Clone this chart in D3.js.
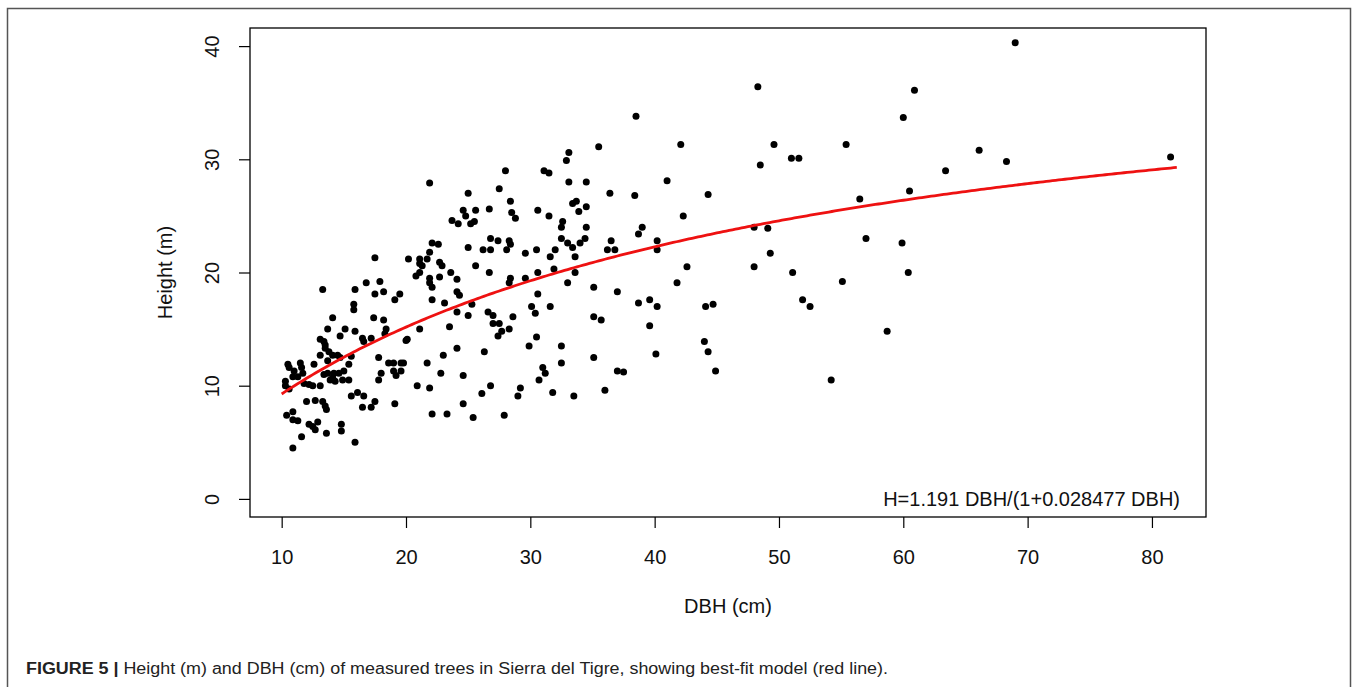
<!DOCTYPE html>
<meta charset="utf-8">
<script src="https://d3js.org/d3.v7.min.js"></script>
<style>
  body { margin: 0; background: #fff; }
  text { font-family: "Liberation Sans", Arial, sans-serif; }
</style>
<svg width="1358" height="687"></svg>

<script>
    const dbh = [13.3, 16.8, 17.9, 15.9, 17.5, 18.2, 19.5, 19.1, 20.8, 21.9, 21.9, 22.1, 22.7, 23.6, 24.1, 24.1, 24.3, 22.1, 23.1, 15.8,
        15.8, 14.1, 17.4, 18.2, 24.1, 13.7, 15.1, 15.9, 14.7, 18.4, 18.3, 21.1, 23.5, 13.1, 13.4, 13.5, 13.5, 16.5, 16.6, 17.2,
        20.1, 20.0, 13.1, 13.8, 14.1, 14.5, 14.7, 15.6, 23.0, 24.1, 10.5, 10.6, 11.5, 11.6, 11.7, 11.0, 10.9, 12.6, 13.7, 17.8,
        18.6, 19.0, 19.6, 19.8, 21.7, 13.4, 13.7, 14.2, 14.6, 15.0, 15.4, 14.1, 14.3, 18.0, 17.8, 19.0, 19.2, 19.6, 22.8, 24.6,
        10.3, 10.3, 10.6, 11.3, 11.8, 12.2, 12.5, 13.1, 13.9, 14.9, 15.4, 20.9, 21.9, 15.6, 16.1, 16.6, 12.0, 12.7, 13.3, 13.5,
        13.6, 17.5, 19.1, 16.5, 17.2, 24.6, 10.4, 10.9, 10.9, 11.3, 12.2, 12.5, 12.7, 12.9, 13.6, 14.8, 14.8, 22.1, 23.3, 11.6,
        10.9, 15.9, 21.9, 25.0, 24.6, 24.8, 23.7, 24.2, 25.2, 22.1, 22.6, 21.9, 25.0, 17.5, 20.2, 21.1, 21.7, 21.3, 21.1, 22.7,
        22.9, 21.1, 32.9, 28.0, 31.1, 31.5, 33.1, 34.5, 27.5, 36.4, 38.4, 28.4, 33.4, 33.7, 34.5, 33.9, 25.6, 26.7, 28.5, 28.8,
        30.6, 31.5, 32.6, 32.5, 34.5, 39.0, 38.7, 25.5, 26.8, 27.4, 28.3, 28.4, 32.5, 34.4, 34.0, 33.0, 33.4, 26.2, 26.8, 28.1,
        29.6, 30.5, 32.0, 31.6, 33.6, 36.5, 36.2, 36.8, 40.2, 40.2, 25.6, 26.7, 28.4, 28.3, 29.6, 30.6, 31.9, 33.6, 33.0, 35.1,
        37.0, 30.6, 30.1, 31.6, 25.3, 38.7, 39.6, 40.2, 25.0, 30.4, 26.6, 27.0, 27.0, 27.5, 28.6, 28.3, 27.7, 27.4, 30.5, 29.9,
        32.5, 35.1, 35.7, 39.6, 40.1, 26.3, 32.5, 35.1, 31.0, 31.2, 30.7, 37.0, 37.5, 26.8, 26.1, 29.2, 29.0, 31.8, 33.5, 36.0,
        25.4, 27.9, 42.1, 49.6, 55.4, 51.0, 51.6, 48.5, 41.0, 44.3, 56.5, 42.3, 48.0, 49.1, 57.0, 49.3, 42.6, 48.0, 51.1, 55.1,
        41.8, 51.9, 44.1, 44.7, 52.5, 44.0, 44.3, 44.9, 54.2, 69.0, 60.9, 60.0, 66.1, 63.4, 68.3, 60.5, 81.5, 59.9, 60.4, 58.7,
        48.3, 38.5, 35.5, 33.1];
    const height = [18.5, 19.1, 19.2, 18.5, 18.1, 18.3, 18.1, 17.6, 19.7, 19.5, 19.1, 18.7, 19.6, 20.0, 19.4, 18.3, 18.0, 17.6, 17.3, 17.2,
        16.7, 16.0, 16.0, 15.8, 16.5, 15.0, 15.0, 14.8, 14.4, 15.0, 14.6, 15.0, 15.2, 14.1, 13.9, 13.6, 13.3, 14.2, 13.9, 14.2,
        14.1, 14.0, 12.7, 13.0, 12.7, 12.7, 12.5, 12.6, 12.7, 13.3, 11.9, 11.6, 12.0, 11.6, 11.1, 11.3, 10.8, 11.9, 12.2, 12.5,
        12.0, 12.0, 12.0, 12.0, 12.0, 11.0, 11.1, 11.1, 11.1, 11.3, 11.9, 10.7, 10.4, 11.1, 10.5, 11.3, 10.9, 11.3, 11.1, 10.9,
        10.4, 10.0, 9.7, 10.8, 10.2, 10.1, 10.0, 10.0, 10.5, 10.5, 10.5, 10.0, 9.8, 9.1, 9.4, 9.1, 8.6, 8.7, 8.6, 8.2,
        7.9, 8.6, 8.4, 8.1, 8.1, 8.4, 7.4, 7.7, 7.0, 6.9, 6.6, 6.4, 6.1, 6.8, 5.8, 6.6, 6.0, 7.5, 7.5, 5.5,
        4.5, 5.0, 27.9, 27.0, 25.5, 25.0, 24.6, 24.3, 24.3, 22.6, 22.5, 21.8, 22.2, 21.3, 21.2, 21.2, 21.2, 20.6, 20.8, 20.9,
        20.6, 20.0, 29.9, 29.0, 29.0, 28.8, 28.0, 28.0, 27.4, 27.0, 26.8, 26.3, 26.1, 26.3, 25.8, 25.4, 25.5, 25.6, 25.3, 24.8,
        25.5, 25.0, 24.5, 24.0, 24.0, 24.0, 23.4, 24.5, 23.0, 22.8, 22.8, 22.5, 23.0, 23.0, 22.6, 22.6, 22.2, 22.0, 22.0, 22.0,
        21.7, 22.0, 22.0, 21.4, 21.4, 22.8, 22.0, 22.0, 22.8, 22.0, 20.6, 20.0, 19.5, 19.1, 19.5, 20.0, 20.3, 20.0, 19.1, 18.7,
        18.3, 18.1, 17.0, 17.0, 17.2, 17.3, 17.6, 17.0, 16.2, 16.4, 16.5, 16.2, 15.5, 15.5, 16.1, 15.0, 14.8, 14.4, 14.3, 13.5,
        13.5, 16.1, 15.8, 15.3, 12.8, 13.0, 12.0, 12.5, 11.6, 11.1, 10.5, 11.3, 11.2, 10.0, 9.3, 9.8, 9.1, 9.4, 9.1, 9.6,
        7.2, 7.4, 31.3, 31.3, 31.3, 30.1, 30.1, 29.5, 28.1, 26.9, 26.5, 25.0, 24.0, 23.9, 23.0, 21.7, 20.5, 20.5, 20.0, 19.2,
        19.1, 17.6, 17.0, 17.2, 17.0, 13.9, 13.0, 11.3, 10.5, 40.3, 36.1, 33.7, 30.8, 29.0, 29.8, 27.2, 30.2, 22.6, 20.0, 14.8,
        36.4, 33.8, 31.1, 30.6];

    const xTicks = [10, 20, 30, 40, 50, 60, 70, 80];
    const yTicks = [0, 10, 20, 30, 40];
    const coefA = 1.191, coefB = 0.028477;
    const fitRange = [10, 82];
    const caption = "Height (m) and DBH (cm) of measured trees in Sierra del Tigre, showing best-fit model (red line).";

    const box = {left: 250, right: 1206, top: 28, bottom: 517};
    const svg = d3.select("svg");

    // outer figure frame
    svg.append("rect")
        .attr("x", 7.5).attr("y", 8.5)
        .attr("width", 1343).attr("height", 700)
        .attr("fill", "none").attr("stroke", "#555").attr("stroke-width", 1.5);

    const data = dbh.map((d, i) => ({dbh: d, h: height[i]}));

    // R style 4% padding around the data range
    const xr = d3.extent(dbh), xp = (xr[1] - xr[0]) * 0.04;
    const x = d3.scaleLinear()
        .domain([xr[0] - xp, xr[1] + xp])
        .range([box.left, box.right]);
    const y = d3.scaleLinear()
        .domain([0 - 1.6, 40 + 1.6])
        .range([box.bottom, box.top]);

    svg.append("g")
        .attr("transform", "translate(0," + box.bottom + ")")
        .call(d3.axisBottom(x).tickValues(xTicks).tickSize(11).tickPadding(22))
        .call(g => g.select(".domain").remove())
        .call(g => g.selectAll("line").attr("stroke", "#000").attr("stroke-width", 1.2))
        .call(g => g.selectAll("text").attr("font-size", 20).attr("fill", "#111")
            .attr("font-family", "Liberation Sans, Arial, sans-serif"));

    const ya = svg.append("g")
        .attr("transform", "translate(" + box.left + ",0)")
        .call(d3.axisLeft(y).tickValues(yTicks).tickSize(11))
        .call(g => g.select(".domain").remove())
        .call(g => g.selectAll("line").attr("stroke", "#000").attr("stroke-width", 1.2));
    // rotated y tick labels, like R's default
    ya.selectAll("text")
        .attr("x", null).attr("dy", null)
        .attr("text-anchor", "middle")
        .attr("transform", "translate(-31,0) rotate(-90)")
        .attr("font-size", 20).attr("fill", "#111")
        .attr("font-family", "Liberation Sans, Arial, sans-serif");

    svg.append("rect")
        .attr("x", box.left).attr("y", box.top)
        .attr("width", box.right - box.left).attr("height", box.bottom - box.top)
        .attr("fill", "none").attr("stroke", "#000").attr("stroke-width", 1.3);

    // points
    svg.append("g")
        .selectAll("circle")
        .data(data)
        .join("circle")
        .attr("cx", d => x(d.dbh))
        .attr("cy", d => y(d.h))
        .attr("r", 3.5)
        .attr("fill", "#000");

    // fitted curve H = a*DBH/(1+b*DBH)
    const curve = d3.range(fitRange[0], fitRange[1] + 0.01, 0.25).map(v => [v, coefA * v / (1 + coefB * v)]);
    svg.append("path")
        .datum(curve)
        .attr("fill", "none")
        .attr("stroke", "#ee1111")
        .attr("stroke-width", 2.8)
        .attr("d", d3.line().x(d => x(d[0])).y(d => y(d[1])));

    svg.append("text")
        .attr("x", 1180).attr("y", 506)
        .attr("text-anchor", "end")
        .attr("font-size", 20).attr("fill", "#111")
        .text("H=" + coefA + " DBH/(1+" + coefB + " DBH)");

    svg.append("text")
        .attr("x", (box.left + box.right) / 2).attr("y", 613)
        .attr("text-anchor", "middle")
        .attr("font-size", 20).attr("fill", "#111")
        .text("DBH (cm)");

    svg.append("text")
        .attr("transform", "translate(172," + (box.top + box.bottom) / 2 + ") rotate(-90)")
        .attr("text-anchor", "middle")
        .attr("font-size", 20).attr("fill", "#111")
        .text("Height (m)");

    const cap = svg.append("text")
        .attr("x", 26).attr("y", 674)
        .attr("font-size", 16).attr("fill", "#222")
        .attr("font-family", "Liberation Sans Narrow, Liberation Sans, Arial, sans-serif")
        .attr("textLength", 862).attr("lengthAdjust", "spacingAndGlyphs");
    cap.append("tspan").attr("font-weight", "bold").text("FIGURE 5 | ");
    cap.append("tspan").text(caption);
</script>
